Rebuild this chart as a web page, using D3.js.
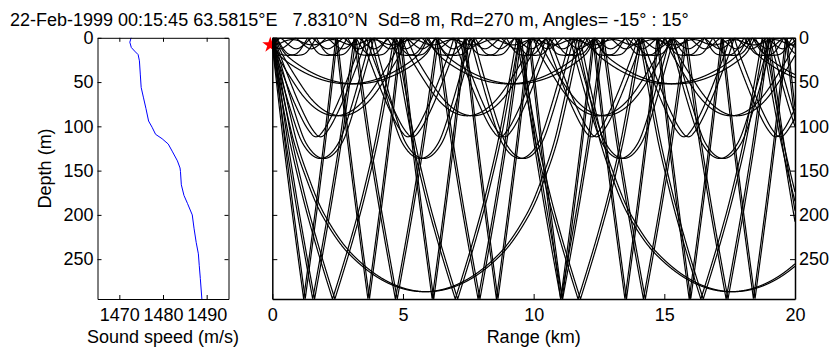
<!DOCTYPE html>
<html>
<head>
<meta charset="utf-8">
<script src="https://cdn.jsdelivr.net/npm/d3@7"></script>
<style>
  body { margin: 0; background: #fff; }
  text { font-family: "Liberation Sans", Arial, sans-serif; fill: #000; }
</style>
</head>
<body>
<svg id="chart" width="832" height="350"></svg>
<script>
// ---- data -------------------------------------------------------------
const titleText = "22-Feb-1999 00:15:45 63.5815°E   7.8310°N  Sd=8 m, Rd=270 m, Angles= -15° : 15°";

// sound speed profile (depth in m, speed in m/s)
const profileDepth = [0, 5, 11, 15, 19, 26, 41, 56, 67, 80, 94, 101, 109, 114, 120, 128, 139, 147, 151, 166, 178, 187, 200, 215, 231, 244, 257, 272, 295];
const profileSpeed = [1472.7, 1472.4, 1472.75, 1473.5, 1474.3, 1474.6, 1474.8, 1475.0, 1475.5, 1476.1, 1476.7, 1477.5, 1478.3, 1479.8, 1481.2, 1482.1, 1483.3, 1483.9, 1484.0, 1484.2, 1484.8, 1485.6, 1486.7, 1487.1, 1487.6, 1488.1, 1488.3, 1488.55, 1488.9];

// launch angles of the ray fan, degrees (positive = downward)
const launchAngles = [-15, -12.5, -10, -8.46, -6.8, -5.4, -4.15, -3.25, -2.8, -1.4, 0,
                      1.4, 2.8, 3.25, 4.15, 5.4, 6.8, 8.46, 10, 12.5, 15];

const sourceDepth = 8;      // m
const waterDepth = 295;     // m
const maxRangeKm = 20;      // km

const speedDomain = [1465, 1495];
const speedTicks = [1470, 1480, 1490];
const depthTicks = [0, 50, 100, 150, 200, 250];
const rangeTicks = [0, 5, 10, 15, 20];

// ---- layout -----------------------------------------------------------
const svg = d3.select("#chart");
const FONT = 18;
const plotTop = 37.8, plotBottom = 299;
const leftPanel = { x0: 97.5, x1: 228.5 };
const rightPanel = { x0: 272.3, x1: 795 };

const yDepth = d3.scaleLinear().domain([0, waterDepth]).range([plotTop, plotBottom]);
const xSpeed = d3.scaleLinear().domain(speedDomain).range([leftPanel.x0, leftPanel.x1]);
const xRange = d3.scaleLinear().domain([0, maxRangeKm]).range([rightPanel.x0, rightPanel.x1]);
const plain = d3.format("d");

// ---- ray tracing through the profile ----------------------------------
function speedAt(z) {
  let i = d3.bisectRight(profileDepth, z);
  i = Math.max(1, Math.min(profileDepth.length - 1, i));
  const z0 = profileDepth[i - 1], z1 = profileDepth[i];
  const c0 = profileSpeed[i - 1], c1 = profileSpeed[i];
  const g = (c1 - c0) / (z1 - z0);
  return [c0 + g * (z - z0), g];
}

// Range-stepped ray equations (dz/dr = tan θ, dθ/dr = -c'/c) with the
// Snell invariant cos θ / c re-imposed after every step to avoid drift.
function traceRay(angleDeg) {
  const dr = 2; // m
  const rMax = maxRangeKm * 1000;
  let r = 0, z = sourceDepth, th = angleDeg * Math.PI / 180;
  const xi = Math.cos(th) / speedAt(z)[0];
  const pts = [[0, z]];
  let n = 0;
  while (r < rMax) {
    const [c, g] = speedAt(z);
    const zm = Math.min(Math.max(z + 0.5 * dr * Math.tan(th), 0), waterDepth);
    const thm = th - 0.5 * dr * g / c;
    const [cm, gm] = speedAt(zm);
    z += dr * Math.tan(thm);
    th -= dr * gm / cm;
    r += dr;
    if (z < 0) { z = -z; th = -th; }
    if (z > waterDepth) { z = 2 * waterDepth - z; th = -th; }
    const cosT = xi * speedAt(z)[0];
    const mag = cosT >= 1 ? 0 : Math.acos(cosT);
    th = (th < 0 ? -1 : 1) * mag;
    n++;
    if (n % 4 === 0 || r >= rMax) pts.push([r / 1000, z]);
  }
  return pts;
}

// ---- title ------------------------------------------------------------
svg.append("text")
  .attr("x", 10).attr("y", 26)
  .attr("font-size", FONT)
  .attr("xml:space", "preserve")
  .style("white-space", "pre")
  .text(titleText);

// ---- left panel: sound speed profile ---------------------------------
const gl = svg.append("g");

gl.append("path")
  .datum(d3.zip(profileSpeed, profileDepth))
  .attr("fill", "none").attr("stroke", "#0000ff").attr("stroke-width", 1)
  .attr("d", d3.line().x(d => xSpeed(d[0])).y(d => yDepth(d[1])));

function styleAxis(sel) {
  sel.selectAll("path.domain").attr("stroke", "#000").attr("stroke-width", 1);
  sel.selectAll(".tick line").attr("stroke", "#000");
  sel.selectAll(".tick text").attr("font-size", FONT).attr("font-family", "Liberation Sans, Arial, sans-serif").attr("fill", "#000");
}

gl.append("g").attr("transform", `translate(${leftPanel.x0},0)`)
  .call(d3.axisLeft(yDepth).tickValues(depthTicks).tickFormat(plain).tickSizeInner(-4).tickSizeOuter(0).tickPadding(4))
  .call(styleAxis);
gl.append("g").attr("transform", `translate(${leftPanel.x1},0)`)
  .call(d3.axisRight(yDepth).tickValues(depthTicks).tickSizeInner(-4).tickSizeOuter(0).tickFormat(""))
  .call(styleAxis);
gl.append("g").attr("transform", `translate(0,${plotBottom})`)
  .call(d3.axisBottom(xSpeed).tickValues(speedTicks).tickFormat(plain).tickSizeInner(-4).tickSizeOuter(0).tickPadding(9))
  .call(styleAxis);
gl.append("g").attr("transform", `translate(0,${plotTop})`)
  .call(d3.axisTop(xSpeed).tickValues(speedTicks).tickSizeInner(-4).tickSizeOuter(0).tickFormat(""))
  .call(styleAxis);

gl.append("text")
  .attr("transform", `translate(51,${(plotTop + plotBottom) / 2}) rotate(-90)`)
  .attr("text-anchor", "middle").attr("font-size", FONT)
  .text("Depth (m)");
gl.append("text")
  .attr("x", (leftPanel.x0 + leftPanel.x1) / 2).attr("y", 343)
  .attr("text-anchor", "middle").attr("font-size", FONT)
  .text("Sound speed (m/s)");

// ---- right panel: ray paths ------------------------------------------
const gr = svg.append("g");
gr.append("defs").append("clipPath").attr("id", "rayClip")
  .append("rect")
  .attr("x", rightPanel.x0).attr("y", plotTop)
  .attr("width", rightPanel.x1 - rightPanel.x0).attr("height", plotBottom - plotTop);

// source marker
gr.append("path")
  .attr("d", d3.symbol(d3.symbolStar, 80)())
  .attr("transform", `translate(${xRange(0) - 2},${yDepth(sourceDepth)})`)
  .attr("fill", "#ff0000");

const rayLine = d3.line().x(d => xRange(d[0])).y(d => yDepth(d[1]));
gr.append("g").attr("clip-path", "url(#rayClip)")
  .selectAll("path")
  .data(launchAngles.map(traceRay))
  .join("path")
  .attr("fill", "none").attr("stroke", "#000").attr("stroke-width", 1.2)
  .attr("d", rayLine);

gr.append("g").attr("transform", `translate(${rightPanel.x1},0)`)
  .call(d3.axisRight(yDepth).tickValues(depthTicks).tickFormat(plain).tickSizeInner(-5).tickSizeOuter(0).tickPadding(4))
  .call(styleAxis);
gr.append("g").attr("transform", `translate(${rightPanel.x0},0)`)
  .call(d3.axisLeft(yDepth).tickValues(depthTicks).tickSizeInner(-5).tickSizeOuter(0).tickFormat(""))
  .call(styleAxis);
gr.append("g").attr("transform", `translate(0,${plotBottom})`)
  .call(d3.axisBottom(xRange).tickValues(rangeTicks).tickFormat(plain).tickSizeInner(-5).tickSizeOuter(0).tickPadding(9))
  .call(styleAxis);
gr.append("g").attr("transform", `translate(0,${plotTop})`)
  .call(d3.axisTop(xRange).tickValues(rangeTicks).tickSizeInner(-5).tickSizeOuter(0).tickFormat(""))
  .call(styleAxis);
gr.selectAll("path.domain").attr("stroke-width", 1.5);

gr.append("text")
  .attr("x", (rightPanel.x0 + rightPanel.x1) / 2).attr("y", 343)
  .attr("text-anchor", "middle").attr("font-size", FONT)
  .text("Range (km)");
</script>
</body>
</html>
